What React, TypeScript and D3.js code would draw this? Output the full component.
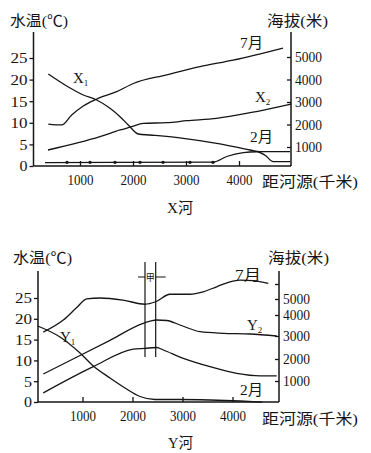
import { useEffect, useRef } from "react";
import * as d3 from "d3";

type Pt = [number, number]; // [距河源 km, value]

// X河: 水温 (℃)
const xJuly: Pt[] = [[402, 9.7], [655, 9.5], [843, 11.8], [1062, 13.9], [1315, 15.5], [1692, 17.2], [2006, 19.1], [2636, 21.1], [3264, 23.0], [3887, 24.5], [4830, 27.3]];
const xFeb: Pt[] = [[340, 0.8], [3515, 0.9], [3768, 2.2], [4081, 3.1], [4334, 3.3], [4491, 2.5], [4647, 1.0], [4962, 1.0]];
const xFebDots = [755, 1189, 1660, 2132, 2566, 3075, 3509];
// X河: 海拔 (米)
const xX1: Pt[] = [[402, 4244], [749, 3711], [1062, 3311], [1315, 3089], [1566, 2720], [1755, 2347], [1911, 1978], [2100, 1578], [2321, 1533], [2949, 1387], [3579, 1164], [4208, 867], [4396, 791], [4962, 791]];
const xX2: Pt[] = [[396, 867], [1377, 1458], [1755, 1756], [1975, 1902], [2194, 2053], [2636, 2080], [3013, 2169], [3579, 2276], [4208, 2524], [4981, 2911]];

// Y河: 水温 (℃)
const yJuly: Pt[] = [[216, 16.8], [616, 19.7], [884, 22.7], [1084, 24.8], [1350, 25.0], [1810, 24.5], [2250, 23.5], [2464, 24.1], [2750, 25.9], [3150, 25.9], [3416, 26.5], [3684, 27.7], [3950, 28.9], [4150, 29.3], [4416, 29.2], [4716, 28.5]];
const yFeb: Pt[] = [[216, 2.2], [1216, 8.5], [2016, 12.7], [2250, 12.9], [2484, 13.1], [2616, 12.5], [3016, 10.5], [3550, 8.5], [4084, 6.9], [4550, 6.3], [4884, 6.3]];
// Y河: 海拔 (米)
const yY1: Pt[] = [[104, 3476], [550, 2957], [950, 2261], [1216, 1682], [1550, 1136], [1850, 667], [2150, 262], [2450, 119], [2950, 119], [3550, 95], [4150, 48], [4590, 0]];
const yY2: Pt[] = [[216, 1318], [950, 2152], [1550, 2813], [2216, 3605], [2484, 3762], [2684, 3738], [2950, 3524], [3350, 3205], [3816, 3129], [4350, 3095], [4884, 3000]];
const yJia = [2250, 2464];

const tempTicks = [0, 5, 10, 15, 20, 25];
const distTicks = [1000, 2000, 3000, 4000];
const altTicksX = [1000, 2000, 3000, 4000, 5000];
const altTicksY = [1000, 2000, 3000, 4000, 5000, 6000];

const FONT = "'Liberation Serif', 'Times New Roman', 'Noto Sans CJK SC', serif";
const INK = "#151515";

type Label = { text: string; x: number; y: number; size: number; len?: number; sub?: string };

type PanelCfg = {
  left: number;
  right: number;
  top: number;
  base: number;
  xRange: [number, number];
  tRange: [number, number];
  hDomain: number[];
  hRange: number[];
  hTicks: number[];
  temps: Pt[][];
  alts: Pt[][];
  labels: Label[];
};

const drawPanel = (root: d3.Selection<SVGSVGElement, unknown, null, undefined>, p: PanelCfg) => {
  const g = root.append("g");
  const x = d3.scaleLinear().domain([0, 5000]).range(p.xRange);
  const t = d3.scaleLinear().domain([0, 25]).range(p.tRange);
  const h = d3.scaleLinear().domain(p.hDomain).range(p.hRange);

  // frame: two vertical axes and the base line
  const frame = [
    [p.left, p.top, p.left, p.base],
    [p.right, p.top, p.right, p.base],
    [p.left, p.base, p.right, p.base],
  ];
  frame.forEach(([x1, y1, x2, y2]) => {
    g.append("line")
      .attr("x1", x1).attr("y1", y1).attr("x2", x2).attr("y2", y2)
      .attr("stroke", INK).attr("stroke-width", 1.5);
  });

  const style = (a: any, len: (d: any) => number | null) => {
    a.select(".domain").remove();
    a.selectAll("line").attr("stroke", INK).attr("stroke-width", 1.3);
    a.selectAll("text")
      .attr("font-family", FONT)
      .attr("fill", INK)
      .attr("font-size", 15)
      .each(function (this: SVGTextElement, d: any) {
        const l = len(d);
        if (l) d3.select(this).attr("textLength", l).attr("lengthAdjust", "spacingAndGlyphs");
      });
  };

  // 水温
  g.append("g")
    .attr("transform", `translate(${p.left},0)`)
    .call(d3.axisLeft(t).tickValues(tempTicks).tickSizeInner(4).tickSizeOuter(0).tickPadding(2))
    .call((a) => style(a, (d) => (d >= 10 ? 17 : 8)));

  // 海拔
  g.append("g")
    .attr("transform", `translate(${p.right},0)`)
    .call(
      d3.axisRight(h).tickValues(p.hTicks).tickSizeInner(-4).tickSizeOuter(0).tickPadding(4)
        .tickFormat((d) => (+d > 5000 ? "" : String(d)))
    )
    .call((a) => style(a, () => 27));

  // 距河源
  g.append("g")
    .attr("transform", `translate(0,${p.base})`)
    .call(
      d3.axisBottom(x).tickValues(distTicks).tickSizeInner(-5).tickSizeOuter(0)
        .tickFormat((d) => String(d))
    )
    .call((a) => {
      style(a, () => 26);
      a.selectAll("text").attr("y", 19).attr("dy", 0);
    });

  const lineT = d3.line<Pt>().x((d) => x(d[0])).y((d) => t(d[1])).curve(d3.curveMonotoneX);
  const lineH = d3.line<Pt>().x((d) => x(d[0])).y((d) => h(d[1])).curve(d3.curveMonotoneX);

  p.temps.forEach((s) =>
    g.append("path").attr("d", lineT(s)).attr("fill", "none").attr("stroke", INK).attr("stroke-width", 1.3)
  );
  p.alts.forEach((s) =>
    g.append("path").attr("d", lineH(s)).attr("fill", "none").attr("stroke", INK).attr("stroke-width", 1.3)
  );

  p.labels.forEach((l) => {
    const txt = g.append("text")
      .attr("x", l.x).attr("y", l.y)
      .attr("font-family", FONT).attr("font-size", l.size).attr("fill", INK)
      .text(l.text);
    if (l.len) txt.attr("textLength", l.len).attr("lengthAdjust", "spacingAndGlyphs");
    if (l.sub) txt.append("tspan").attr("font-size", 9).attr("dy", 3).text(l.sub);
  });

  return { g, x, t };
};

const App = () => {
  const ref = useRef<SVGSVGElement | null>(null);

  useEffect(() => {
    if (!ref.current) return;
    ref.current.innerHTML = "";
    const svg = d3.select(ref.current);

    // X河
    const top = drawPanel(svg, {
      left: 33.5, right: 291, top: 32, base: 166,
      xRange: [27, 292], tRange: [166, 58],
      hDomain: [1000, 5000], hRange: [147, 57], hTicks: altTicksX,
      temps: [xJuly, xFeb], alts: [xX1, xX2],
      labels: [
        { text: "水温(℃)", x: 10, y: 26, size: 15, len: 58 },
        { text: "海拔(米)", x: 267, y: 26, size: 15, len: 61 },
        { text: "7月", x: 240, y: 48, size: 15, len: 23 },
        { text: "X", x: 73, y: 83, size: 15, sub: "1" },
        { text: "X", x: 255, y: 102, size: 15, sub: "2" },
        { text: "2月", x: 250, y: 142, size: 15, len: 23 },
        { text: "距河源(千米)", x: 262, y: 187, size: 15, len: 96 },
        { text: "X河", x: 167, y: 213, size: 15, len: 26 },
      ],
    });
    top.g.selectAll(".dot")
      .data(xFebDots)
      .join("circle")
      .attr("cx", (d) => top.x(d))
      .attr("cy", top.t(0.85))
      .attr("r", 1.7)
      .attr("fill", INK);

    // Y河
    const bottom = drawPanel(svg, {
      left: 38, right: 279, top: 271, base: 402,
      xRange: [32.5, 282.5], tRange: [402, 298],
      hDomain: [0, 1000, 2000, 3000, 4000, 5000, 6000],
      hRange: [402, 381, 359, 336, 315, 299, 284], hTicks: altTicksY,
      temps: [yJuly, yFeb], alts: [yY1, yY2],
      labels: [
        { text: "水温(℃)", x: 13, y: 263, size: 15, len: 59 },
        { text: "海拔(米)", x: 268, y: 263, size: 15, len: 61 },
        { text: "7月", x: 235, y: 280, size: 15, len: 26 },
        { text: "Y", x: 60, y: 342, size: 15, sub: "1" },
        { text: "Y", x: 247, y: 330, size: 15, sub: "2" },
        { text: "2月", x: 240, y: 395, size: 15, len: 23 },
        { text: "距河源(千米)", x: 262, y: 424, size: 15, len: 96 },
        { text: "Y河", x: 168, y: 448, size: 15, len: 25 },
      ],
    });
    // 甲 section marker
    const [a, b] = yJia.map((d) => bottom.x(d));
    [a, b].forEach((v) =>
      bottom.g.append("line")
        .attr("x1", v).attr("x2", v).attr("y1", 262).attr("y2", 357)
        .attr("stroke", INK).attr("stroke-width", 1.2)
    );
    bottom.g.append("line").attr("x1", a - 7).attr("x2", a).attr("y1", 277).attr("y2", 277)
      .attr("stroke", INK).attr("stroke-width", 1);
    bottom.g.append("line").attr("x1", b).attr("x2", b + 10).attr("y1", 277).attr("y2", 277)
      .attr("stroke", INK).attr("stroke-width", 1);
    bottom.g.append("text")
      .attr("x", (a + b) / 2).attr("y", 281)
      .attr("text-anchor", "middle")
      .attr("font-family", FONT).attr("font-size", 9).attr("fill", INK)
      .text("甲");
  }, []);

  return (
    <svg
      ref={ref}
      width={371}
      height={453}
      style={{ position: "absolute", left: 0, top: 0, background: "#fff" }}
    />
  );
};

export default App;
